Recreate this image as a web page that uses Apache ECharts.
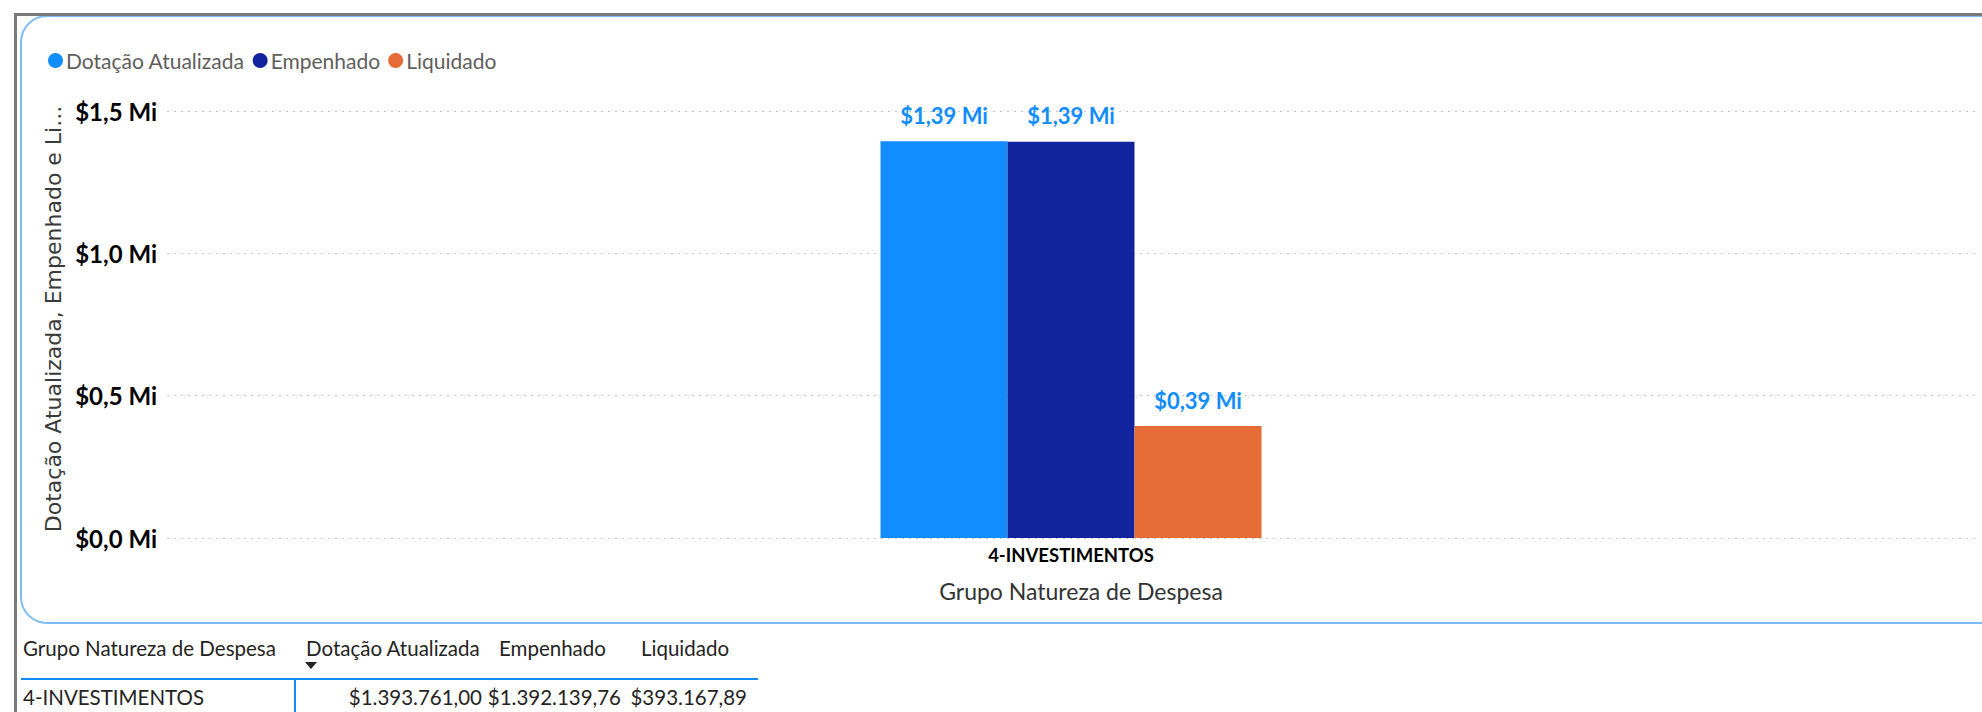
<!DOCTYPE html>
<html>
<head>
<meta charset="utf-8">
<script src="https://cdn.jsdelivr.net/npm/echarts@6/dist/echarts.min.js"></script>
<style>
html,body{margin:0;padding:0;background:#fff;overflow:hidden;}
#frame{position:absolute;left:14px;top:13px;right:0;bottom:0;border-top:3px solid #7A7A7A;border-left:3px solid #7A7A7A;pointer-events:none;}
#chart{position:absolute;left:0;top:0;width:1982px;height:712px;}
</style>
</head>
<body>
<div id="chart"></div>
<div id="frame"></div>
<script>
const categories = ['4-INVESTIMENTOS'];
const seriesNames = ['Dotação Atualizada', 'Empenhado', 'Liquidado'];
const dotacao = [1393761.00];
const empenhado = [1392139.76];
const liquidado = [393167.89];
const yTicks = [0, 500000, 1000000, 1500000];
const tableHeaders = ['Grupo Natureza de Despesa', 'Dotação Atualizada', 'Empenhado', 'Liquidado'];
const colors = ['#118DFF', '#12239E', '#E66C37'];

function fmtMi(v, d) { return '$' + (v / 1e6).toFixed(d).replace('.', ',') + ' Mi'; }
function fmtMoney(v) {
  const parts = v.toFixed(2).split('.');
  const intp = parts[0].replace(/\B(?=(\d{3})+(?!\d))/g, '.');
  return '$' + intp + ',' + parts[1];
}

const chart = echarts.init(document.getElementById('chart'), null, { renderer: 'svg' });
const FONT = 'Lato, "Open Sans", sans-serif';
const lbl = {
  show: true, position: 'top', distance: 15,
  color: '#118DFF', fontFamily: FONT, fontWeight: 'bold', fontSize: 22,
  formatter: p => fmtMi(p.value, 2)
};
const allSeries = [dotacao, empenhado, liquidado].map((arr, i) => ({
  name: seriesNames[i], type: 'bar', data: arr, barWidth: 127, barGap: '0%',
  itemStyle: { color: colors[i] }, label: lbl
}));

const tableRowVals = [dotacao[0], empenhado[0], liquidado[0]].map(fmtMoney);
const TF = '20.5px ' + FONT;
function txt(id, x, y, s, align) {
  return { type: 'text', id: id, x: x, y: y, style: { text: s, fill: '#252423', font: TF, align: align || 'left', verticalAlign: 'middle' } };
}

const graphics = [
  { type: 'rect', id: 'card', shape: { x: 21, y: 16, width: 2000, height: 607, r: 26 }, style: { fill: 'none', stroke: '#7DBBF7', lineWidth: 2 }, z: -1 },
  { type: 'text', id: 'ytitle', x: 53, y: 319, rotation: Math.PI / 2, style: { text: 'Dotação Atualizada, Empenhado e Li...', fill: '#3A3A3A', font: '22px "DejaVu Sans"', align: 'center', verticalAlign: 'middle' } },
  txt('h0', 23, 648, tableHeaders[0]),
  txt('h1', 306, 648, tableHeaders[1]),
  txt('h2', 499, 648, tableHeaders[2]),
  txt('h3', 641, 648, tableHeaders[3]),
  { type: 'polygon', id: 'sortarrow', shape: { points: [[305, 662], [317, 662], [311, 669]] }, style: { fill: '#252423' } },
  { type: 'rect', id: 'hline', shape: { x: 21, y: 678, width: 737, height: 2 }, style: { fill: '#118DFF' } },
  { type: 'rect', id: 'vline', shape: { x: 294, y: 679, width: 2, height: 40 }, style: { fill: '#118DFF' } },
  txt('r0', 23, 697, categories[0]),
  txt('r1', 482, 697, tableRowVals[0], 'right'),
  txt('r2', 621, 697, tableRowVals[1], 'right'),
  txt('r3', 747, 697, tableRowVals[2], 'right')
];

chart.setOption({
  animation: false,
  color: colors,
  legend: {
    left: 43, top: 45, icon: 'circle', itemWidth: 15, itemHeight: 15, itemGap: 8,
    textStyle: { color: '#605E5C', fontFamily: FONT, fontSize: 21, padding: [0, 0, 0, -2] },
    data: seriesNames
  },
  grid: { left: 167, right: 7, top: 111, bottom: 174, containLabel: false },
  xAxis: {
    type: 'category', data: categories,
    axisLine: { show: false }, axisTick: { show: false },
    axisLabel: { color: '#000', fontFamily: FONT, fontWeight: 'bold', fontSize: 18.5, margin: 7 },
    name: 'Grupo Natureza de Despesa', nameLocation: 'middle', nameGap: 41,
    nameTextStyle: { color: '#333', fontFamily: FONT, fontSize: 23, padding: [0, 0, 0, 20] }
  },
  yAxis: {
    type: 'value', min: yTicks[0], max: yTicks[yTicks.length - 1], interval: yTicks[1] - yTicks[0],
    axisLine: { show: false }, axisTick: { show: false },
    axisLabel: { color: '#000', fontFamily: FONT, fontWeight: 'bold', fontSize: 24, margin: 10, formatter: v => fmtMi(v, 1) },
    splitLine: { lineStyle: { color: '#C8C8C8', type: [2, 5], width: 1 } }
  },
  series: allSeries,
  graphic: graphics
});
</script>
</body>
</html>
